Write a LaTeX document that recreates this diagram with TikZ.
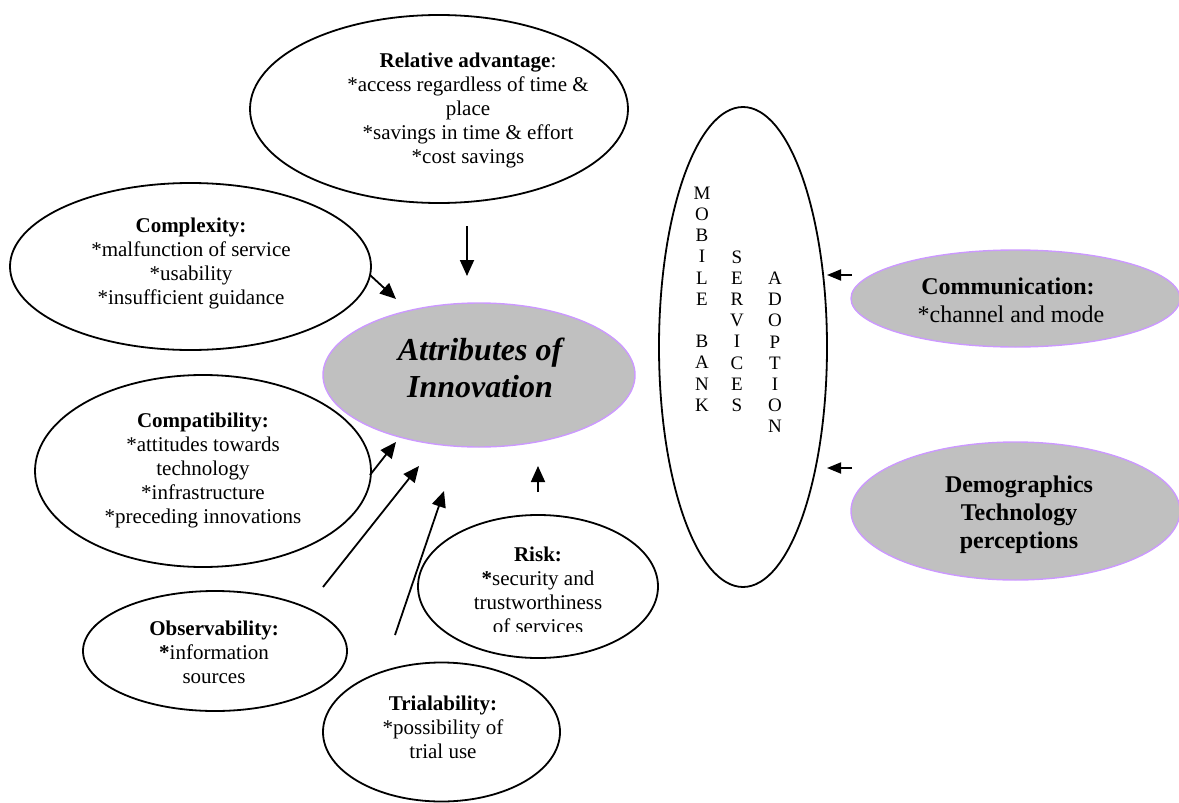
\documentclass[tikz,border=0pt]{standalone}
\usepackage{fontspec}
\setmainfont{Liberation Serif}
\usetikzlibrary{shapes.geometric,arrows.meta}
\definecolor{ovalgray}{HTML}{C0C0C0}
\definecolor{lav}{HTML}{CC99FF}
\begin{document}
\begin{tikzpicture}[x=1pt,y=-1pt,
  oval/.style={draw=black, line width=1.8pt, ellipse, inner sep=0pt},
  grayoval/.style={draw=lav, fill=ovalgray, line width=1.4pt, ellipse, inner sep=0pt},
  txt/.style={align=center, font=\fontsize{21}{24}\selectfont, inner sep=0pt},
  bigtxt/.style={align=center, font=\fontsize{24}{27.5}\selectfont, inner sep=0pt},
  letters/.style={align=center, font=\fontsize{19}{21.2}\selectfont, inner sep=0pt},
  arr/.style={line width=1.8pt, -{Triangle[length=16pt,width=14pt]}},
  sarr/.style={line width=1.8pt, -{Triangle[length=14pt,width=11pt]}},
]
\useasboundingbox (0,0) rectangle (1179,803);

% ellipses
\node[oval, minimum width=378pt, minimum height=188pt] (ra) at (439,109) {};
\node[oval, minimum width=361pt, minimum height=167pt] (cx) at (190.5,266.5) {};
\node[oval, minimum width=336pt, minimum height=192pt] (cp) at (203,471) {};
\node[grayoval, minimum width=312pt, minimum height=144pt] (attr) at (479,375) {};
\node[oval, minimum width=264pt, minimum height=120pt] (obs) at (215,651) {};
\node[oval, minimum width=237pt, minimum height=139pt] (tri) at (441.5,732) {};
\node[oval, minimum width=240pt, minimum height=143pt] (risk) at (538,586.5) {};
\node[oval, minimum width=168pt, minimum height=480pt] (mob) at (743,347) {};
\node[grayoval, minimum width=329pt, minimum height=97pt] (comm) at (1015.5,298.5) {};
\node[grayoval, minimum width=329pt, minimum height=138pt] (demo) at (1015.5,511) {};

% texts
\node[txt] (ratxt) at (468,110) {\textbf{Relative advantage}:\\*access regardless of time \&\\place\\*savings in time \& effort\\*cost savings};
\node[txt] (cxtxt) at (191,263) {\textbf{Complexity:}\\*malfunction of service\\*usability\\*insufficient guidance};
\node[txt] (cptxt) at (203,470) {\textbf{Compatibility:}\\*attitudes towards\\technology\\*infrastructure\\*preceding innovations};
\node[align=center, inner sep=0pt, font=\fontsize{32}{37}\selectfont\bfseries\itshape] (attrtxt) at (480,368) {Attributes of\\Innovation};
\node[txt] (obstxt) at (214,652) {\textbf{Observability:}\\\textbf{*}information\\sources};
\node[txt] (tritxt) at (443,727) {\textbf{Trialability:}\\*possibility of\\trial use};
\begin{scope}
\clip (400,530) rectangle (680,631.5);
\node[txt] (risktxt) at (538,590) {\textbf{Risk:}\\\textbf{*}security and\\trustworthiness\\of services};
\end{scope}
\node[letters] (mob1) at (702,299) {M\\O\\B\\I\\L\\E\\[21.2pt]B\\A\\N\\K};
\node[letters] (mob2) at (737,331) {S\\E\\R\\V\\I\\C\\E\\S};
\node[letters] (mob3) at (775,352.5) {A\\D\\O\\P\\T\\I\\O\\N};
\node[bigtxt] (commtxt) at (1008,300.5) {\textbf{Communication:}\\\ *channel and mode};
\node[bigtxt, font=\fontsize{24}{28}\selectfont\bfseries] (demotxt) at (1019,515) {Demographics\\Technology\\perceptions};

% arrow ends
\coordinate (a1s) at (467,226); \coordinate (a1e) at (467,276);
\coordinate (a2s) at (370,275); \coordinate (a2e) at (396,299);
\coordinate (a3s) at (370,475); \coordinate (a3e) at (396,442);
\coordinate (a4s) at (323,587); \coordinate (a4e) at (419,466);
\coordinate (a5s) at (395,635); \coordinate (a5e) at (444,491);
\coordinate (a6s) at (538,492); \coordinate (a6e) at (538,466);
\coordinate (a7s) at (852,275); \coordinate (a7e) at (827,275);
\coordinate (a8s) at (852,468); \coordinate (a8e) at (827,468);

\draw[arr] (a1s) -- (a1e);
\draw[arr] (a2s) -- (a2e);
\draw[arr] (a3s) -- (a3e);
\draw[arr] (a4s) -- (a4e);
\draw[arr] (a5s) -- (a5e);
\draw[arr] (a6s) -- (a6e);
\draw[sarr] (a7s) -- (a7e);
\draw[sarr] (a8s) -- (a8e);
\end{tikzpicture}
\end{document}
